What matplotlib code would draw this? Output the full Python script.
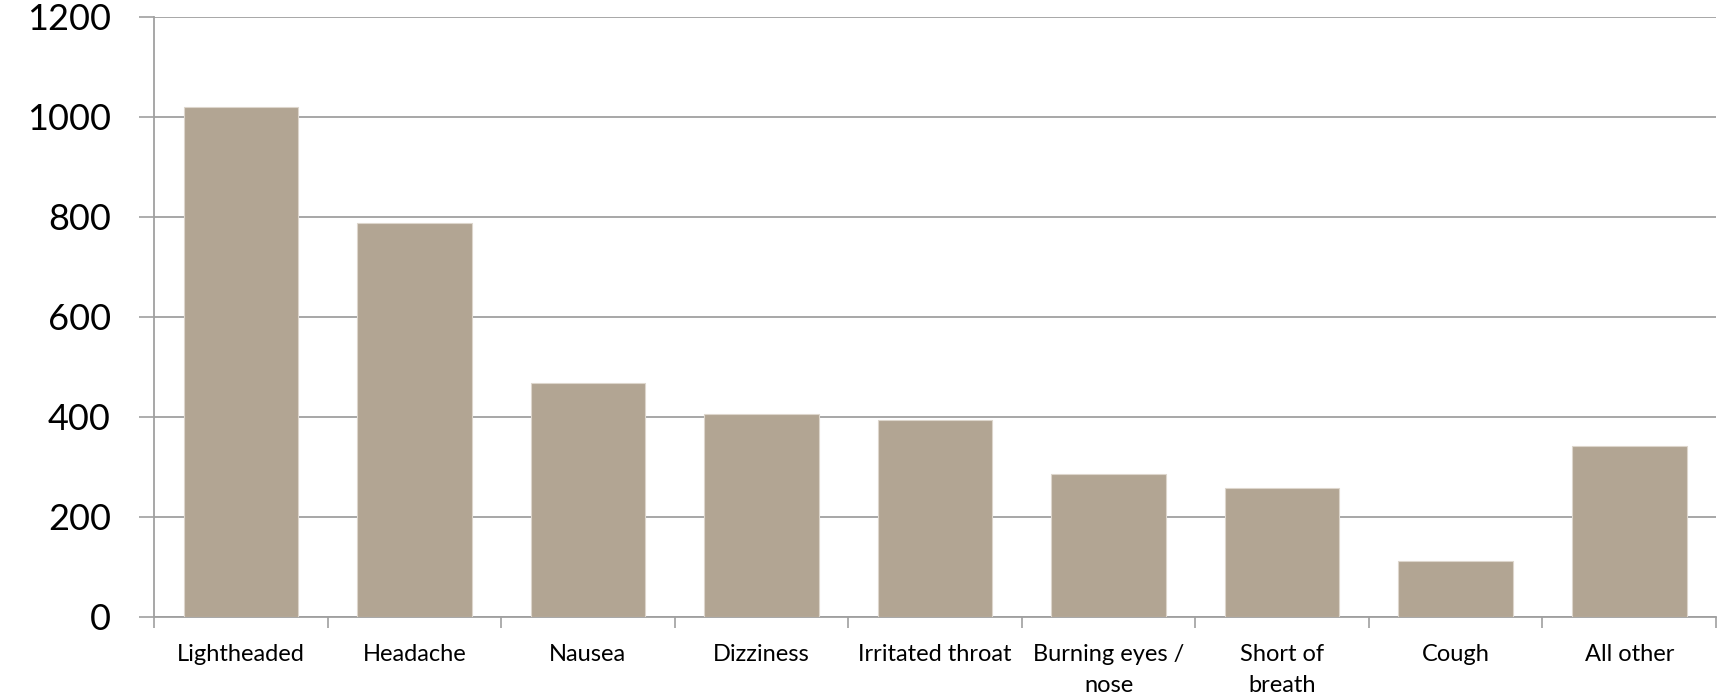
import matplotlib
matplotlib.use("Agg")
import matplotlib.pyplot as plt
import numpy as np

categories = ["Lightheaded", "Headache", "Nausea", "Dizziness", "Irritated throat",
              "Burning eyes /\nnose", "Short of\nbreath", "Cough", "All other"]
counts = [1020, 788, 467, 405, 393, 285, 257, 111, 342]
y_ticks = [0, 200, 400, 600, 800, 1000, 1200]

plt.rcParams["font.family"] = ["Lato", "DejaVu Sans"]

fig = plt.figure(figsize=(17.21, 7.0), dpi=100)
ax = fig.add_axes([0.0895, 0.119, 0.9076, 0.857])

x = np.arange(len(categories))
ax.bar(x, counts, width=0.66, color="#b2a593", edgecolor="#ddd6cc", linewidth=0.8, zorder=3)

ax.set_xlim(-0.5, len(categories) - 0.5)
ax.set_ylim(0, 1200)
ax.set_yticks(y_ticks)
ax.set_yticklabels([str(v) for v in y_ticks], fontsize=26)
ax.tick_params(axis="y", length=11, width=1.2, color="#a0a0a0", pad=20)
ax.yaxis.grid(True, color="#a0a0a0", linewidth=1.3, zorder=0)

ax.set_xticks(x)
ax.set_xticklabels(categories, fontsize=17, linespacing=1.55, va="top")
ax.tick_params(axis="x", which="major", length=0, pad=20)
ax.set_xticks(np.arange(len(categories) + 1) - 0.5, minor=True)
ax.tick_params(axis="x", which="minor", length=8, width=1.2, color="#a0a0a0")

for s in ["top", "right"]:
    ax.spines[s].set_visible(False)
for s in ["left", "bottom"]:
    ax.spines[s].set_color("#a0a0a0")
    ax.spines[s].set_linewidth(1.3)

fig.savefig("out.png", dpi=100)
